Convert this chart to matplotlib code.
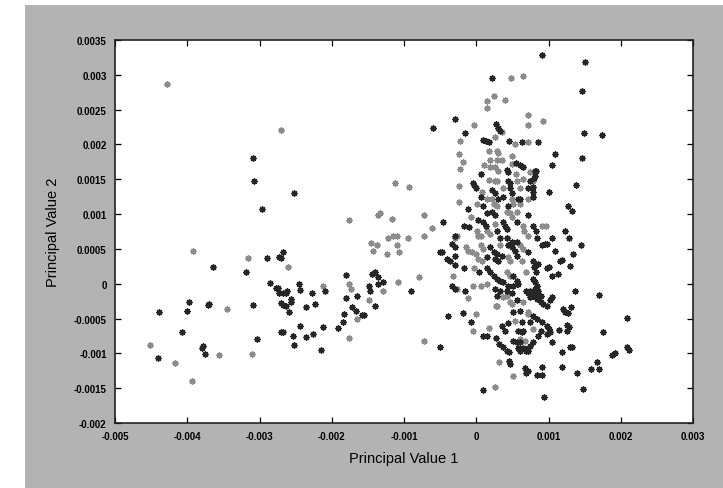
import matplotlib.pyplot as plt
from matplotlib.patches import Rectangle
from matplotlib.ticker import FixedLocator, FuncFormatter
import numpy as np

plt.rcParams['font.family'] = ['Liberation Sans', 'DejaVu Sans']

# values in units of 1e-4 (x = principal value 1, y = principal value 2)
dark_left = [
    (-44.1, -10.6), (-43.9, -4.0), (-40.7, -6.9), (-40.1, -3.9), (-39.7, -2.6), (-37.9, -9.2),
    (-37.8, -8.9), (-37.6, -10.1), (-37.1, -3.0), (-36.4, 2.4), (-37.0, -2.9),
    (-31.8, 1.7), (-30.9, -3.0), (-30.4, -8.0), (-28.9, 3.7), (-28.6, 0.1), (-27.7, -0.6),
    (-27.4, -0.6), (-27.3, 3.9), (-27.0, 3.7), (-26.7, 4.5), (-27.3, -1.4), (-26.8, -1.4),
    (-26.4, -1.3), (-26.2, -1.1), (-27.0, -2.7), (-26.7, -3.0), (-26.4, -3.2), (-25.7, -2.2),
    (-25.6, -2.6), (-25.9, -4.0), (-27.0, -7.0), (-26.8, -7.0), (-25.3, -7.5), (-25.2, -8.8),
    (-24.6, 0.0), (-24.4, -0.9), (-24.4, -6.0), (-23.5, -3.3), (-23.5, -7.6), (-22.7, -1.3),
    (-22.6, -7.2), (-22.3, -2.9), (-21.5, -9.5), (-21.2, -6.2), (-20.9, -1.1), (-19.2, -6.3),
    (-18.5, -5.5), (-18.3, -4.3), (-18.0, -2.0), (-18.0, 1.3), (-17.2, -3.3), (-16.7, -3.9),
    (-16.5, -1.7), (-15.8, -4.5), (-15.6, -4.5), (-14.9, -0.3), (-14.7, -1.0), (-14.4, 1.4),
    (-14.0, 1.7), (-14.0, -3.2), (-13.6, 0.9), (-13.6, -0.1),
    (-30.9, 18.0), (-30.7, 14.8), (-25.2, 13.1), (-29.6, 10.8),
]

dark_mid = [
    (-6.0, 22.4), (-3.0, 23.7), (-1.5, 21.6), (-4.6, 8.9), (-5.0, 4.6), (-4.0, 3.6), (-3.6, 3.2),
    (-3.0, 4.0), (-3.0, 2.7), (-1.7, 2.2), (-3.3, 5.7), (-3.0, 5.3), (-1.7, 8.3), (-1.0, 8.2),
    (-1.2, 10.8), (-12.9, 0.3), (-9.0, -1.0), (-3.3, -0.3), (-2.9, -0.7), (-1.5, -1.1),
    (-0.4, 14.4), (0.0, 13.7), (-3.9, -4.7), (-1.9, -4.2), (-5.0, -9.1), (-0.7, -5.5),
    (-4.7, 4.6), (-2.9, 6.8),
]

dark_core = [
    (2.2, 29.5), (2.8, 23.0), (3.0, 22.4), (3.3, 22.0), (1.0, 20.7), (1.4, 20.5), (1.8, 20.4),
    (4.6, 20.5), (6.4, 20.3), (8.6, 20.3), (10.9, 18.7), (5.5, 17.4), (6.1, 17.0), (6.5, 16.7),
    (10.5, 17.1), (0.6, 15.8), (4.3, 16.4), (4.4, 16.1), (8.3, 16.2), (8.0, 15.2), (4.4, 14.8),
    (4.7, 14.4), (-0.3, 14.2), (2.2, 13.4), (2.6, 13.1), (4.7, 13.7), (5.0, 13.1), (7.2, 13.8),
    (7.9, 13.9), (7.9, 13.2), (10.0, 13.2), (0.6, 12.5), (3.0, 12.2), (3.7, 12.5), (5.8, 12.2),
    (6.1, 12.2), (7.9, 12.5), (1.0, 11.2), (4.4, 11.2), (1.5, 10.1), (2.2, 10.3), (2.6, 9.8),
    (7.1, 9.8), (0.3, 9.1), (1.0, 8.9), (1.4, 8.3), (3.7, 8.9), (4.0, 8.3), (4.3, 7.9),
    (5.7, 8.8), (7.9, 8.3), (2.9, 7.5), (3.3, 6.5), (4.3, 6.5), (5.0, 6.0), (5.7, 6.0),
    (8.3, 7.5), (8.4, 6.6), (1.9, 5.3), (2.4, 4.6), (2.9, 4.3), (4.4, 5.5), (5.0, 5.3),
    (5.4, 4.7), (7.2, 4.6), (1.5, 3.9), (2.6, 3.6), (3.0, 3.2), (3.6, 4.0), (5.7, 4.0),
    (7.9, 3.2), (8.0, 2.4), (8.3, 1.7), (9.8, 2.2), (10.5, 1.1), (11.3, 1.4), (0.4, 1.7),
    (1.5, 2.2), (1.9, 1.7), (2.4, 1.1), (2.9, 0.7), (3.3, 0.4), (3.7, 0.3), (5.1, 1.1),
    (5.7, 0.4), (5.8, 0.0), (7.8, 0.7), (8.2, 0.3), (8.4, -0.3), (2.9, -1.7), (4.3, -1.1),
    (5.0, -1.4), (6.9, -1.1), (7.5, -1.1), (7.9, -1.4), (8.4, -1.6), (8.9, -1.7), (2.6, -0.7),
    (3.3, -1.1), (4.4, -0.3), (5.1, -0.3), (5.7, 0.0), (5.7, -2.4), (5.1, -4.0), (6.1, -3.9),
    (7.1, -1.4), (7.5, -1.9), (7.9, -1.7), (8.4, -2.2), (8.9, -2.6), (9.3, -2.9), (9.8, -3.2),
    (10.2, -2.4), (10.5, -1.9), (8.2, -0.7), (8.6, -1.0), (7.8, -4.6), (8.4, -5.0), (9.1, -5.5),
    (9.8, -6.0), (10.0, -6.5), (10.2, -6.9), (3.6, -6.0), (4.4, -5.6), (6.4, -5.5), (6.5, -6.8),
    (5.8, -6.8), (6.4, -6.9), (7.5, -5.5), (8.9, -6.8), (4.0, -6.8), (5.1, -8.2), (5.7, -8.3),
    (7.8, -8.3), (7.5, -8.9), (8.6, -7.5), (9.8, -7.2), (10.5, -8.3), (3.2, -8.6), (3.7, -9.1),
    (4.3, -9.6), (4.6, -9.8), (5.8, -9.3), (6.1, -9.6), (6.9, -9.6), (7.2, -9.3), (4.6, -11.1),
    (4.7, -11.5), (6.8, -12.1), (6.9, -12.8), (8.4, -13.1), (9.1, -13.1), (9.1, -11.9),
    (1.0, -15.2), (9.4, -16.2), (1.5, -7.5), (2.8, -7.8), (1.0, -7.5), (8.2, 16.2), (8.2, 15.4),
    (7.5, 14.7), (8.2, 2.6), (8.6, 2.9), (9.1, 5.5), (9.5, 5.7), (9.8, 5.7), (10.5, 6.5),
    (10.9, 4.7), (10.0, 2.4), (11.8, 3.4), (7.1, -12.5), (6.1, -8.3), (6.5, -9.3), (7.1, -9.6),
]

dark_right = [
    (9.1, 32.8), (15.1, 31.9), (14.7, 27.7), (14.9, 21.7), (17.4, 21.4), (14.7, 18.1),
    (13.8, 14.2), (12.7, 11.1), (13.3, 10.5), (12.3, 7.5), (12.9, 6.5), (14.5, 5.5),
    (13.4, 4.3), (13.0, 2.6), (11.6, 3.3), (13.6, -1.1), (17.0, -1.6), (12.0, -3.7),
    (12.3, -4.0), (13.1, -3.3), (12.7, -4.2), (11.5, -6.6), (12.6, -6.8), (12.5, -5.9),
    (12.9, -6.2), (13.0, -9.1), (13.3, -9.1), (11.8, -9.8), (11.8, -11.9), (14.0, -12.8),
    (14.8, -15.1), (15.9, -12.2), (17.0, -12.2), (16.7, -11.2), (17.6, -7.0), (18.8, -10.3),
    (19.2, -9.9), (20.9, -4.9), (20.9, -9.1), (21.2, -9.5),
]

gray_left = [
    (-45.1, -8.8), (-41.7, -11.4), (-39.4, -13.9), (-39.2, 4.7), (-35.6, -10.2), (-34.5, -3.6),
    (-31.6, 3.7), (-31.1, -10.1), (-26.0, 2.4), (-21.2, -0.3), (-17.6, -0.1), (-17.6, -7.8),
    (-17.3, -0.7), (-16.5, -5.0), (-14.9, -2.3), (-14.5, 5.9), (-14.3, 4.7), (-13.8, 5.5),
    (-42.8, 28.7), (-27.0, 22.1), (-17.6, 9.1), (-13.6, 9.9),
]

gray_mid = [
    (-0.3, 22.8), (-2.2, 20.5), (-2.4, 18.7), (-1.8, 17.5), (-2.2, 16.5), (-2.4, 14.1),
    (-2.4, 11.8), (-0.7, 9.6), (-13.3, 10.1), (-11.6, 9.3), (-7.2, 9.8), (-6.1, 8.0),
    (-12.2, 6.6), (-11.5, 6.8), (-10.9, 6.9), (-9.4, 6.6), (-7.2, 6.8), (-3.0, 6.6),
    (-2.6, 6.8), (-10.9, 5.5), (-12.3, 4.2), (-10.7, 4.6), (-1.4, 5.3), (-1.1, 4.7),
    (-0.6, 4.6), (-0.1, 4.3), (-0.3, 2.2), (-10.8, 0.3), (-12.9, -1.1), (-7.9, 1.0),
    (-2.6, -0.7), (-0.4, -0.3), (-1.2, -2.0), (0.0, -4.3), (-7.3, -8.2), (-0.4, -6.8),
    (-3.2, 1.1), (-11.2, 14.4), (-9.3, 13.9),
]

gray_core = [
    (1.5, 26.2), (1.5, 25.3), (4.0, 26.4), (3.0, 22.3), (3.6, 21.8), (7.2, 24.3), (7.1, 22.8),
    (9.3, 23.3), (4.8, 29.6), (6.5, 29.9), (2.4, 27.0), (2.6, 21.1), (5.4, 20.1), (7.2, 20.3),
    (1.8, 19.1), (2.9, 19.1), (3.0, 18.8), (1.9, 17.7), (2.9, 17.7), (3.5, 17.8), (5.0, 18.4),
    (5.0, 17.2), (1.1, 17.1), (1.9, 16.8), (2.6, 16.8), (3.0, 16.2), (5.5, 15.7), (7.5, 16.1),
    (1.7, 14.9), (2.6, 14.8), (2.9, 14.7), (5.7, 14.8), (6.5, 15.1), (7.8, 14.7), (0.8, 13.2),
    (3.7, 13.7), (6.1, 13.7), (1.5, 12.2), (2.2, 12.2), (5.0, 12.2), (7.1, 12.2), (0.1, 11.4),
    (2.4, 11.5), (2.9, 11.2), (5.1, 11.5), (6.1, 11.5), (4.3, 10.3), (4.7, 10.1), (5.7, 10.3),
    (5.0, 9.6), (2.6, 8.6), (6.5, 8.3), (9.1, 8.3), (9.7, 8.3), (0.1, 7.5), (0.3, 6.9),
    (0.6, 6.8), (1.9, 7.2), (1.5, 7.6), (6.6, 7.5), (7.1, 6.8), (0.6, 5.5), (1.0, 5.0),
    (3.3, 5.5), (6.1, 5.5), (6.5, 5.0), (0.3, 3.6), (0.8, 3.2), (4.4, 3.9), (4.7, 3.2),
    (6.4, 3.2), (4.3, 1.7), (4.7, 1.1), (6.9, 1.7), (0.6, -0.3), (1.5, -0.1), (2.9, -3.2),
    (3.7, -1.9), (4.3, -1.7), (5.0, -2.9), (6.5, -2.6), (7.1, -4.0), (5.4, -5.3), (7.9, -6.5),
    (6.1, -7.9), (6.8, -8.2), (1.8, -6.3), (3.2, -11.2), (5.1, -13.2), (2.6, -14.9),
    (2.8, -3.2), (4.7, -2.6), (7.1, -4.3), (7.8, 12.5),
]

dark = np.array(dark_left + dark_mid + dark_core + dark_right) * 1e-4
gray = np.array(gray_left + gray_mid + gray_core) * 1e-4

x_ticks = [-0.005, -0.004, -0.003, -0.002, -0.001, 0, 0.001, 0.002, 0.003]
y_ticks = [-0.002, -0.0015, -0.001, -0.0005, 0, 0.0005, 0.001, 0.0015, 0.002, 0.0025, 0.003, 0.0035]

W, H = 723, 489
fig = plt.figure(figsize=(W / 100, H / 100), dpi=100, facecolor='white')
fig.patches.append(Rectangle((25 / W, 0), 1 - 25 / W, 1 - 6 / H, transform=fig.transFigure,
                             facecolor='#b3b3b3', edgecolor='none', zorder=-10))

ax = fig.add_axes([115 / W, 1 - 424 / H, (693 - 115) / W, (424 - 41) / H])
ax.set_zorder(5)
ax.set_facecolor('white')

star = (8, 2, 0)
ax.scatter(gray[:, 0], gray[:, 1], marker=star, s=15, linewidths=1.1, color='#8c8c8c', zorder=2)
ax.scatter(dark[:, 0], dark[:, 1], marker=star, s=15, linewidths=1.1, color='#262626', zorder=3)

ax.set_xlim(-0.005, 0.003)
ax.set_ylim(-0.002, 0.0035)
ax.xaxis.set_major_locator(FixedLocator(x_ticks))
ax.yaxis.set_major_locator(FixedLocator(y_ticks))
fmt = FuncFormatter(lambda v, p: f'{round(v, 5) + 0.0:g}')
ax.xaxis.set_major_formatter(fmt)
ax.yaxis.set_major_formatter(fmt)
ax.tick_params(direction='in', length=4, width=0.9, top=True, right=True,
               labelsize=7, labelcolor='#000000', pad=6)
for lbl in ax.get_xticklabels() + ax.get_yticklabels():
    lbl.set_fontweight('bold')
for sp in ax.spines.values():
    sp.set_linewidth(1.2)
    sp.set_color('#222222')

ax.set_xlabel('Principal Value 1', fontsize=10.5, va='center')
ax.set_ylabel('Principal Value 2', fontsize=10.5, va='center')
ax.xaxis.set_label_coords(0.5, -(459 - 424) / 383)
ax.yaxis.set_label_coords(-(115 - 53) / 578, 0.5)

fig.savefig('out.png', dpi=100, facecolor=fig.get_facecolor())
